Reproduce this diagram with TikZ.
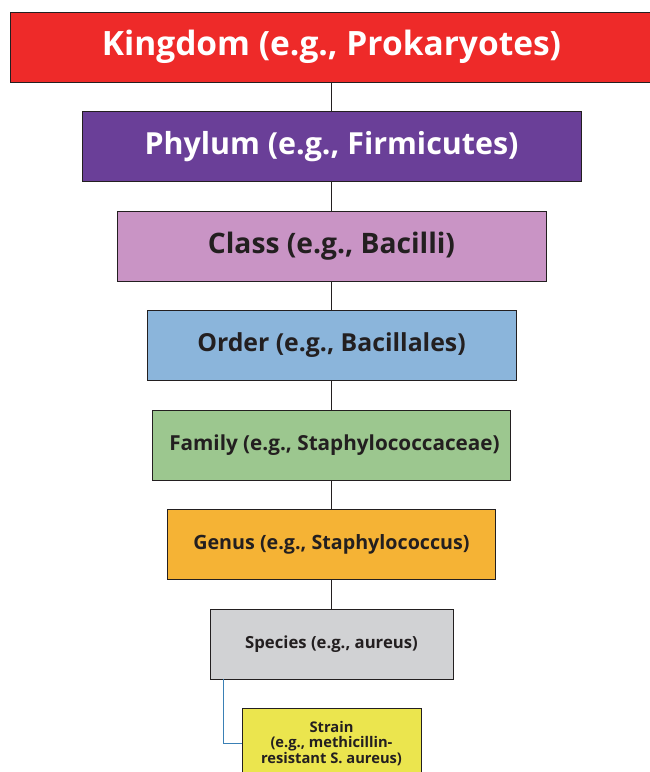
\documentclass[tikz,border=0pt]{standalone}
\usepackage{fontspec}
\setmainfont{Open Sans}
\usepackage{tikz}
\usetikzlibrary{positioning}
\definecolor{kingdomred}{RGB}{238,42,41}
\definecolor{phylumpurple}{RGB}{106,63,152}
\definecolor{classpink}{RGB}{201,148,197}
\definecolor{orderblue}{RGB}{139,181,219}
\definecolor{familygreen}{RGB}{156,199,143}
\definecolor{genusorange}{RGB}{245,179,53}
\definecolor{speciesgray}{RGB}{209,210,212}
\definecolor{strainyellow}{RGB}{235,229,78}
\definecolor{darktext}{RGB}{35,31,32}
\definecolor{linkblue}{RGB}{58,128,181}
\tikzstyle{rankbox} = [rectangle, minimum height=70pt, text centered, draw=darktext,
line width=0.8pt, inner sep=0pt, text=darktext]
\tikzstyle{link} = [draw=darktext, line width=0.8pt]
\tikzstyle{strainlink} = [draw=linkblue, line width=1.2pt]
\newcommand{\fs}[1]{\fontsize{#1}{1.08\dimexpr #1pt\relax}\selectfont\bfseries}

\begin{document}
\begin{tikzpicture} [node distance=28.7pt]
    \useasboundingbox (0,0) rectangle (649pt,-772pt);
    \node (kingdom) [rankbox, fill=kingdomred, text=white, minimum width=643pt, font=\fs{33.5}] at (331.5pt,-47pt) {Kingdom (e.g., Prokaryotes)};
    \node (phylum) [rankbox, below=of kingdom, fill=phylumpurple, text=white, minimum width=499pt, font=\fs{30.4}] {Phylum (e.g., Firmicutes)};
    \node (class) [rankbox, below=of phylum, fill=classpink, minimum width=429pt, font=\fs{28.2}] {Class (e.g., Bacilli)};
    \node (order) [rankbox, below=of class, fill=orderblue, minimum width=369pt, font=\fs{24.8}] {Order (e.g., Bacillales)};
    \node (family) [rankbox, below=of order, fill=familygreen, minimum width=358pt, font=\fs{20.7}] {\hspace{6pt}Family (e.g., Staphylococcaceae)};
    \node (genus) [rankbox, below=of family, fill=genusorange, minimum width=328pt, font=\fs{19.7}] {Genus (e.g., Staphylococcus)};
    \node (species) [rankbox, below=of genus, fill=speciesgray, minimum width=243pt, font=\fs{16.7}] {Species (e.g., aureus)};
    \node (strain) [rankbox, below=of species, fill=strainyellow, minimum width=179pt, align=center, font=\fs{14.7}] {Strain\\(e.g., methicillin-\\resistant S. aureus)};

    \draw[link] (kingdom) -- (phylum);
    \draw[link] (phylum) -- (class);
    \draw[link] (class) -- (order);
    \draw[link] (order) -- (family);
    \draw[link] (family) -- (genus);
    \draw[link] (genus) -- (species);
    \draw[strainlink] ([xshift=14pt]species.south west) |- (strain.west);

\end{tikzpicture}
\end{document}
